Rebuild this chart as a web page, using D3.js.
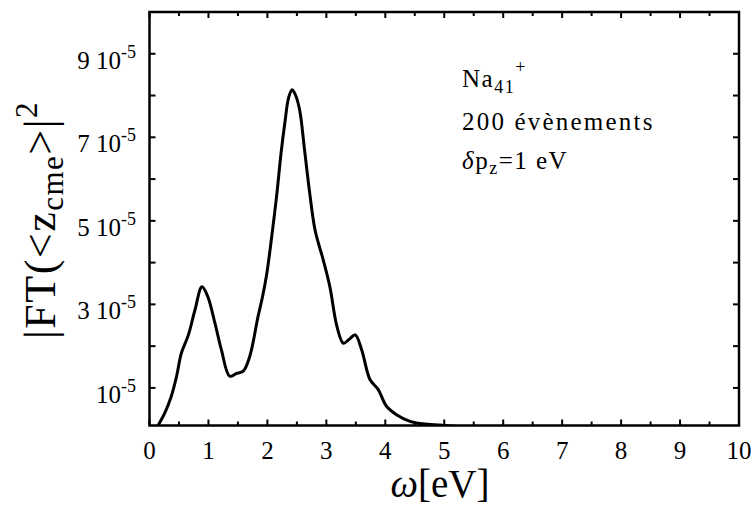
<!DOCTYPE html>
<html><head><meta charset="utf-8">
<script src="https://cdn.jsdelivr.net/npm/d3@7/dist/d3.min.js"></script>
<style>body{margin:0;background:#fff} text{font-family:"Liberation Serif","Times New Roman",serif;fill:#000}</style>
</head><body>
<svg id="chart" width="751" height="505"></svg>
<script>
// frequency omega [eV]
const omega = [0.145,0.26,0.37,0.46,0.54,0.66,0.77,0.89,0.99,1.11,1.22,1.36,1.47,1.59,1.70,1.84,1.92,1.99,2.08,2.16,2.23,2.30,2.36,2.42,2.48,2.55,2.63,2.72,2.81,2.95,3.06,3.18,3.29,3.40,3.49,3.60,3.74,3.88,4.02,4.19,4.42,4.64,4.93,5.10,5.50,6.00,7.00,8.00,9.00,10.0];
// |FT(<z_cme>)|^2 values, in units of 1e-5
const ftValues = [0.10,0.40,0.80,1.28,1.83,2.27,2.86,3.42,3.18,2.55,1.91,1.28,1.34,1.40,1.75,2.70,3.20,3.74,4.70,5.64,6.60,7.39,7.95,8.14,8.00,7.63,6.70,5.64,4.77,4.05,3.42,2.47,2.07,2.18,2.27,1.91,1.20,0.96,0.56,0.36,0.20,0.14,0.11,0.09,0.06,0.05,0.04,0.04,0.04,0.04];
const xTickValues = [0,1,2,3,4,5,6,7,8,9,10];
const xMinorTicks = [0.5,1.5,2.5,3.5,4.5,5.5,6.5,7.5,8.5,9.5];
const yTickValues = [1,2,3,4,5,6,7,8,9];
const yLabelValues = [1,3,5,7,9];
const yLabelCoef = ["","3 ","5 ","7 ","9 "];
const annotation = ["Na", "41", "+"];

const svg = d3.select("#chart");
const L = 149.5, R = 739, T = 12, B = 425.5;
const x = d3.scaleLinear().domain([0,10]).range([L,R]);
const y = d3.scaleLinear().domain([0.1,10]).range([B,T]);

svg.append("defs").append("clipPath").attr("id","clip")
  .append("rect").attr("x",L).attr("y",T).attr("width",R-L).attr("height",B-T);

// ticks (inward, mirrored)
const tk = svg.append("g").attr("stroke","#000").attr("stroke-width",2);
xTickValues.forEach(v=>{
  tk.append("line").attr("x1",x(v)).attr("x2",x(v)).attr("y1",B).attr("y2",B-6);
  tk.append("line").attr("x1",x(v)).attr("x2",x(v)).attr("y1",T).attr("y2",T+6);
});
xMinorTicks.forEach(v=>{
  tk.append("line").attr("x1",x(v)).attr("x2",x(v)).attr("y1",B).attr("y2",B-4);
  tk.append("line").attr("x1",x(v)).attr("x2",x(v)).attr("y1",T).attr("y2",T+4);
});
yTickValues.forEach(v=>{
  tk.append("line").attr("y1",y(v)).attr("y2",y(v)).attr("x1",L).attr("x2",L+6);
  tk.append("line").attr("y1",y(v)).attr("y2",y(v)).attr("x1",R).attr("x2",R-6);
});

// curve
const data = omega.map((o,i)=>({o, v: ftValues[i]}));
const line = d3.line().x(d=>x(d.o)).y(d=>y(d.v)).curve(d3.curveCatmullRom.alpha(0.5));
svg.append("path").datum(data).attr("clip-path","url(#clip)")
  .attr("d",line).attr("fill","none").attr("stroke","#000").attr("stroke-width",3)
  .attr("stroke-linejoin","round");

// frame
svg.append("rect").attr("x",L).attr("y",T).attr("width",R-L).attr("height",B-T)
  .attr("fill","none").attr("stroke","#000").attr("stroke-width",2.5);

// x tick labels
xTickValues.forEach(v=>{
  svg.append("text").attr("x",x(v)).attr("y",459).attr("text-anchor","middle")
    .attr("font-size",25).text(v);
});

// y tick labels
yLabelValues.forEach((v,i)=>{
  const t = svg.append("text").attr("x",136).attr("y",y(v)+15).attr("text-anchor","end").attr("font-size",25);
  t.append("tspan").text(yLabelCoef[i]+"10");
  t.append("tspan").attr("dy",-11).attr("font-size",18).text("-5");
});

// x axis title
const xt = svg.append("text").attr("x",440).attr("y",497).attr("text-anchor","middle").attr("font-size",39);
xt.append("tspan").attr("font-style","italic").text("ω");
xt.append("tspan").text("[eV]");

// y axis title
const yt = svg.append("text").attr("transform","translate(55,220) rotate(-90)")
  .attr("text-anchor","middle").attr("font-size",44).attr("letter-spacing",1.5);
yt.append("tspan").text("|FT(<");
yt.append("tspan").text("z");
yt.append("tspan").attr("dy",8).attr("font-size",31).text("cme");
yt.append("tspan").attr("dy",-8).text(">|");
yt.append("tspan").attr("dy",-18).attr("font-size",31).text("2");

// annotation
const a1 = svg.append("text").attr("x",462).attr("y",87).attr("font-size",25).attr("letter-spacing",1.5);
a1.append("tspan").text(annotation[0]);
a1.append("tspan").attr("dy",6).attr("font-size",18).text(annotation[1]);
a1.append("tspan").attr("dy",-20).attr("font-size",18).text(annotation[2]);
svg.append("text").attr("x",462).attr("y",130).attr("font-size",25).attr("letter-spacing",2.2).text("200 évènements");
const a3 = svg.append("text").attr("x",462).attr("y",169).attr("font-size",25).attr("letter-spacing",1.5);
a3.append("tspan").attr("font-style","italic").text("δ");
a3.append("tspan").text("p");
a3.append("tspan").attr("dy",5).attr("font-size",18).text("z");
a3.append("tspan").attr("dy",-5).text("=1 eV");
</script>
</body></html>
